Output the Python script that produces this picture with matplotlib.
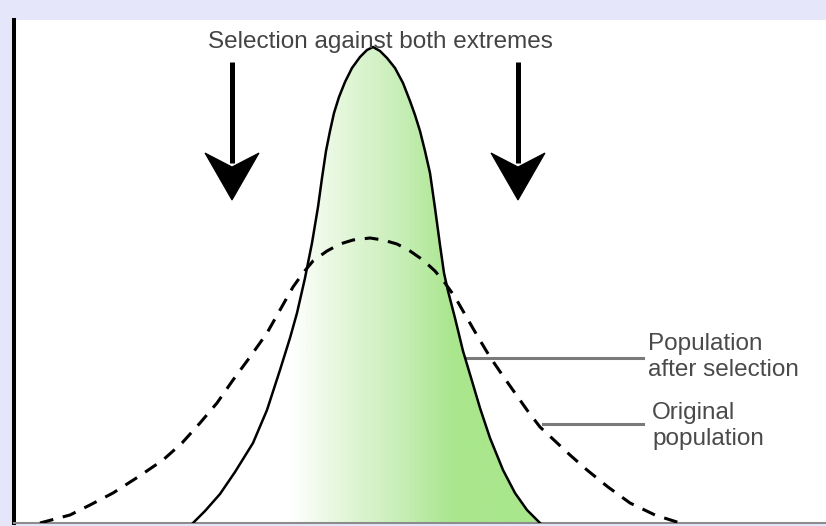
import numpy as np
import matplotlib
matplotlib.use("Agg")
import matplotlib.pyplot as plt
from matplotlib.colors import LinearSegmentedColormap
from matplotlib.patches import Polygon

# curves (x across the trait, y = frequency)
after_x = [193, 205, 220, 235, 253, 267, 280, 290, 297, 305, 312, 318, 322,
           326, 330, 334, 339, 345, 352, 360, 367, 373, 380, 387, 395, 403,
           410, 415, 420, 425, 430, 435, 440, 444, 448, 455, 463, 472, 480,
           490, 503, 515, 527, 540]
after_y = [0, 12, 29, 51, 80, 113, 153, 185, 210, 245, 280, 316, 345,
           372, 392, 410, 426, 441, 455, 466, 473, 476, 472, 465, 455, 440,
           422, 408, 392, 372, 350, 315, 278, 250, 232, 205, 172, 142, 115,
           85, 53, 30, 13, 0]

orig_x = [40, 55, 70, 90, 113, 138, 163, 182, 200, 217, 233, 250, 267, 280,
          293, 303, 313, 327, 340, 353, 370, 383, 397, 410, 423, 435, 445,
          455, 467, 478, 490, 503, 515, 527, 540, 555, 570, 587, 608, 630,
          655, 680]
orig_y = [0, 4, 8, 18, 30, 46, 63, 80, 100, 120, 143, 166, 190, 213,
          236, 250, 262, 272, 279, 283, 285, 283, 279, 272, 263, 252, 240,
          226, 205, 186, 166, 147, 130, 113, 96, 82, 68, 53, 36, 20,
          8, 0]

title = "Selection against both extremes"
arrow_x = [232, 518]
labels = ["Population\nafter selection", "Original\npopulation"]

fig = plt.figure(figsize=(8.26, 5.26), dpi=100, facecolor="#e6e6fa")
ax = fig.add_axes([14 / 826, 3 / 526, 812 / 826, 503 / 526])
ax.set_facecolor("white")
ax.set_xlim(14, 826)
ax.set_ylim(0, 503)

# gradient fill under the narrow curve
cmap = LinearSegmentedColormap.from_list("grad", [
    (0.0, "#ffffff"), (0.28, "#ffffff"), (0.44, "#e2f6d8"),
    (0.60, "#c7eeb7"), (0.755, "#a9e68c"), (1.0, "#a9e68c")])
poly = Polygon(np.column_stack([after_x, after_y]), closed=True,
               facecolor="none", edgecolor="none")
ax.add_patch(poly)
im = ax.imshow(np.linspace(0, 1, 400).reshape(1, -1), cmap=cmap,
               extent=[min(after_x), max(after_x), 0, max(after_y)],
               aspect="auto", origin="lower", zorder=1)
im.set_clip_path(poly)

ax.plot(after_x, after_y, color="black", lw=1.8, zorder=3,
        solid_joinstyle="round")
ax.plot(orig_x, orig_y, color="black", lw=2.2, zorder=3,
        linestyle=(0, (4.5, 3.2)))

# arrows
for ax_x in arrow_x:
    ax.plot([ax_x, ax_x], [461, 360], color="black", lw=3.6,
            solid_capstyle="butt", zorder=4)
    head = Polygon([[ax_x - 27, 370], [ax_x, 356], [ax_x + 27, 370], [ax_x, 323]],
                   closed=True, facecolor="black", edgecolor="black", lw=0.8, zorder=4)
    ax.add_patch(head)

ax.text(380, 481, title, ha="center", va="center", fontsize=17.5,
        color="#444444", family="Liberation Sans")

# label leader lines
ax.plot([467, 643], [165, 165], color="#7a7a7a", lw=2.2, zorder=2)
ax.plot([543, 643], [99, 99], color="#7a7a7a", lw=2.2, zorder=2)
ax.text(648, 166, labels[0], ha="left", va="center", fontsize=17.5,
        color="#4a4a4a", family="Liberation Sans", linespacing=1.2)
ax.text(652, 97, labels[1], ha="left", va="center", fontsize=17.5,
        color="#4a4a4a", family="Liberation Sans", linespacing=1.2)

ax.set_xticks([])
ax.set_yticks([])
ax.spines["top"].set_visible(False)
ax.spines["right"].set_visible(False)
ax.spines["left"].set_color("black")
ax.spines["left"].set_linewidth(2.9)
ax.spines["bottom"].set_color("#8c8c8c")
ax.spines["bottom"].set_linewidth(1.5)

fig.savefig("out.png", dpi=100, facecolor=fig.get_facecolor())
plt.close(fig)
